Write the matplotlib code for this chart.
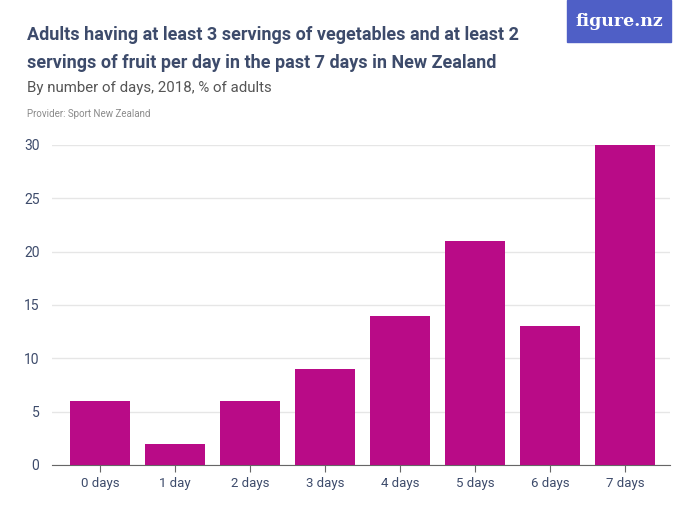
import matplotlib.pyplot as plt
from matplotlib.patches import Rectangle

categories = ["0 days", "1 day", "2 days", "3 days", "4 days", "5 days", "6 days", "7 days"]
percent = [6, 2, 6, 9, 14, 21, 13, 30]
y_ticks = [0, 5, 10, 15, 20, 25, 30]

title = "Adults having at least 3 servings of vegetables and at least 2\nservings of fruit per day in the past 7 days in New Zealand"
subtitle = "By number of days, 2018, % of adults"
provider = "Provider: Sport New Zealand"

BAR = "#b90b87"
TEXT = "#3d4b6b"
FONT = ["Roboto", "DejaVu Sans"]

fig = plt.figure(figsize=(7, 5.25), dpi=100)
ax = fig.add_axes([52 / 700, 60 / 525, 618 / 700, 320 / 525])

x = range(len(categories))
ax.bar(x, percent, width=0.8, color=BAR, zorder=3)
ax.set_xlim(-0.64, 7.6)
ax.set_ylim(0, 30)
ax.set_yticks(y_ticks)
ax.set_xticks(list(x))
ax.set_xticklabels(categories)
ax.grid(axis="y", color="#e6e6e6", linewidth=1, zorder=0)
for s in ["top", "right", "left"]:
    ax.spines[s].set_visible(False)
ax.spines["bottom"].set_color("#666666")
ax.tick_params(axis="y", length=0, pad=9, labelsize=10, labelcolor=TEXT)
ax.tick_params(axis="x", length=5, color="#666666", labelsize=9.5, labelcolor=TEXT, pad=4)
for lab in ax.get_yticklabels() + ax.get_xticklabels():
    lab.set_fontfamily(FONT)

fig.text(27 / 700, 1 - 26 / 525, title, fontsize=13, color=TEXT, va="top", ha="left",
         fontfamily=FONT, fontweight="semibold", linespacing=1.7)
fig.text(27 / 700, 1 - 88 / 525, subtitle, fontsize=10.8, color="#555555", va="center",
         ha="left", fontfamily=FONT)
fig.text(27 / 700, 1 - 114 / 525, provider, fontsize=7, color="#8a8a8a", va="center",
         ha="left", fontfamily=FONT)

# logo box
fig.patches.append(Rectangle((567 / 700, 1 - 42 / 525), 104 / 700, 42 / 525,
                             transform=fig.transFigure, color="#4f5fc6", zorder=0))
fig.text(619 / 700, 1 - 21 / 525, "figure.nz", fontsize=12.5, color="white", ha="center",
         va="center", fontfamily="DejaVu Serif", fontweight="bold")

fig.savefig("out.png", dpi=100)
